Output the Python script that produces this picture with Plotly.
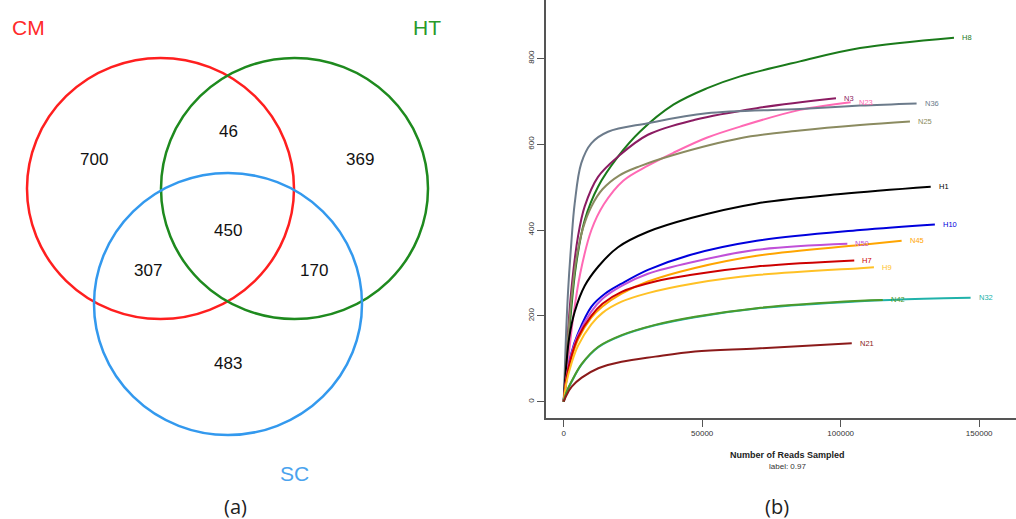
import plotly.graph_objects as go

W, H = 1016, 519

# ---------------- Venn data ----------------
venn_sets = ["CM", "HT", "SC"]
venn_set_colors = ["#ff1f1f", "#1e8a1e", "#3399ee"]
venn_label_colors = ["#ff2a2a", "#2a9a2a", "#4aa3ee"]
venn_regions = ["CM only", "CM&HT", "HT only", "all", "CM&SC", "HT&SC", "SC only"]
venn_counts = [700, 46, 369, 450, 307, 170, 483]

# ---------------- Rarefaction data ----------------
samples = ["H8", "N3", "N23", "N36", "N25", "H1", "H10", "N50", "N45", "H7", "H9", "N32", "N42", "N21"]
sample_colors = ["#1a7a1a", "#8b1c62", "#ff69b4", "#6c7b8b", "#8b8b60", "#000000", "#0000dd",
                 "#c050d8", "#ffa500", "#cd0000", "#ffc125", "#20b2aa", "#4c9a2a", "#8b1a1a"]

reads_H8 = [0, 2500, 4500, 7580, 12400, 19600, 27500, 39600, 51600, 63700, 85300, 107000, 140900]
otus_H8 = [0, 200, 320, 423, 501, 571, 629, 692, 730, 758, 793, 824, 848]
reads_N3 = [0, 1000, 2750, 5160, 7580, 12400, 19600, 30400, 47400, 69700, 98300]
otus_N3 = [0, 110, 260, 385, 455, 524, 571, 622, 657, 684, 707]
reads_N23 = [0, 1500, 3500, 6000, 10000, 14500, 21500, 30400, 39600, 51600, 63700, 85300, 103600]
otus_N23 = [0, 90, 200, 300, 400, 460, 515, 550, 580, 615, 641, 680, 698]
reads_N36 = [0, 800, 1600, 2750, 3970, 6350, 9960, 16000, 30400, 51600, 85300, 107000, 127400]
otus_N36 = [0, 150, 260, 370, 462, 556, 602, 629, 649, 672, 682, 690, 695]
reads_N25 = [0, 1000, 2500, 4500, 7000, 10000, 14000, 20000, 27600, 39600, 63700, 85300, 107000, 125000]
otus_N25 = [0, 100, 220, 330, 405, 455, 495, 527, 549, 575, 614, 632, 645, 653]
reads_H1 = [0, 1000, 2000, 4000, 7600, 12500, 19600, 30400, 46000, 69700, 100000, 132500]
otus_H1 = [0, 90, 150, 210, 270, 315, 360, 396, 428, 462, 484, 501]
reads_H10 = [0, 1000, 2750, 5160, 9960, 15000, 20900, 30400, 45600, 69700, 107000, 134000]
otus_H10 = [0, 50, 113, 159, 221, 252, 275, 307, 342, 375, 400, 413]
reads_N50 = [0, 1000, 2750, 5160, 9960, 14000, 20900, 30400, 47000, 69700, 102400]
otus_N50 = [0, 58, 110, 155, 210, 240, 270, 298, 326, 354, 368]
reads_N45 = [0, 1000, 2750, 5160, 9960, 14000, 20900, 30400, 47000, 69700, 107000, 122000]
otus_N45 = [0, 52, 100, 145, 196, 222, 252, 280, 311, 340, 365, 375]
reads_H7 = [0, 1000, 2750, 5160, 9960, 14000, 20900, 33000, 45600, 69700, 104900]
otus_H7 = [0, 55, 105, 150, 200, 228, 256, 280, 295, 315, 329]
reads_H9 = [0, 1000, 2750, 5160, 9960, 14000, 20900, 30400, 47400, 69700, 107000, 112000]
otus_H9 = [0, 45, 88, 130, 180, 207, 233, 253, 276, 295, 311, 313]
reads_N32 = [0, 1000, 2900, 6500, 12500, 20900, 33000, 47400, 69700, 107000, 130000, 146900]
otus_N32 = [0, 21, 47, 87, 127, 154, 178, 197, 217, 234, 240, 242]
reads_N42 = [0, 1000, 2900, 6500, 12500, 20900, 33000, 47400, 69700, 107000, 115200]
otus_N42 = [0, 22, 48, 88, 128, 155, 179, 198, 218, 235, 237]
reads_N21 = [0, 1000, 2900, 6500, 12500, 20900, 33000, 47400, 69700, 104000]
otus_N21 = [0, 15, 35, 56, 78, 93, 105, 117, 124, 136]

reads = [reads_H8, reads_N3, reads_N23, reads_N36, reads_N25, reads_H1, reads_H10,
         reads_N50, reads_N45, reads_H7, reads_H9, reads_N32, reads_N42, reads_N21]
otus = [otus_H8, otus_N3, otus_N23, otus_N36, otus_N25, otus_H1, otus_H10,
        otus_N50, otus_N45, otus_H7, otus_H9, otus_N32, otus_N42, otus_N21]

x_ticks = [0, 50000, 100000, 150000]
y_ticks = [0, 200, 400, 600, 800]

fig = go.Figure()

for name, col, xs, ys in zip(samples, sample_colors, reads, otus):
    fig.add_trace(go.Scatter(x=xs, y=ys, mode="lines", name=name,
                             line=dict(color=col, width=2, shape="spline", smoothing=1.0),
                             hoverinfo="name+x+y"))
    fig.add_annotation(x=xs[-1], y=ys[-1], xref="x", yref="y", text=name,
                       showarrow=False, xanchor="left", xshift=6,
                       font=dict(family="Liberation Sans, Arial", size=7.5, color=col))

# ---------------- Venn circles (pixel layout -> paper coords) ----------------
def px(x):
    return x / W

def py(y):
    return 1 - y / H

circles = [(160.5, 188.5, 133.5, 130.5), (294.5, 188.5, 133.5, 130.5), (228.0, 304.0, 134.0, 131.0)]
for (cx, cy, rx, ry), col in zip(circles, venn_set_colors):
    fig.add_shape(type="circle", xref="paper", yref="paper",
                  x0=px(cx - rx), x1=px(cx + rx), y0=py(cy + ry), y1=py(cy - ry),
                  line=dict(color=col, width=2.5), fillcolor="rgba(0,0,0,0)")

set_label_pos = [(28, 27), (427, 27), (294, 473)]
for name, col, (x, y) in zip(venn_sets, venn_label_colors, set_label_pos):
    fig.add_annotation(x=px(x), y=py(y), xref="paper", yref="paper", text=name, showarrow=False,
                       xanchor="center", yanchor="middle",
                       font=dict(family="Liberation Sans, Arial", size=21, color=col))

region_pos = [(94, 160), (228, 131), (360, 160), (228, 230), (148, 270), (314, 270), (228, 363)]
for cnt, (x, y) in zip(venn_counts, region_pos):
    fig.add_annotation(x=px(x), y=py(y), xref="paper", yref="paper", text=str(cnt), showarrow=False,
                       xanchor="center", yanchor="middle",
                       font=dict(family="Liberation Sans, Arial", size=17, color="#111111"))

# panel captions
fig.add_annotation(x=px(235), y=py(506), xref="paper", yref="paper", text="(a)", showarrow=False,
                   xanchor="center", yanchor="middle", font=dict(family="Open Sans", size=20, color="#222222"))
fig.add_annotation(x=px(777), y=py(506), xref="paper", yref="paper", text="(b)", showarrow=False,
                   xanchor="center", yanchor="middle", font=dict(family="Open Sans", size=20, color="#222222"))

# x title
fig.add_annotation(x=px(787), y=py(455), xref="paper", yref="paper", text="<b>Number of Reads Sampled</b>",
                   showarrow=False, xanchor="center", yanchor="middle",
                   font=dict(family="Liberation Sans, Arial", size=9, color="#222222"))
fig.add_annotation(x=px(787), y=py(466), xref="paper", yref="paper", text="label: 0.97",
                   showarrow=False, xanchor="center", yanchor="middle",
                   font=dict(family="Liberation Sans, Arial", size=8, color="#333333"))

fig.update_layout(
    width=W, height=H, margin=dict(l=0, r=0, t=0, b=0),
    paper_bgcolor="white", plot_bgcolor="white", showlegend=False,
    xaxis=dict(domain=[546 / W, 1], range=[-6390, 163290], showline=True, linecolor="#555555", linewidth=1.5,
               ticks="outside", ticklen=7, tickwidth=1.2, tickcolor="#555555",
               tickvals=x_ticks, ticktext=[str(v) for v in x_ticks],
               tickfont=dict(family="Liberation Sans, Arial", size=8, color="#333333"),
               showgrid=False, zeroline=False),
    yaxis=dict(domain=[(H - 418) / H, 1], range=[-38, 936], showline=True, linecolor="#555555", linewidth=1.5,
               ticks="outside", ticklen=7, tickwidth=1.2, tickcolor="#555555",
               tickvals=y_ticks, ticktext=[str(v) for v in y_ticks], tickangle=-90,
               tickfont=dict(family="Liberation Sans, Arial", size=8, color="#333333"),
               showgrid=False, zeroline=False),
)

fig.write_html("out.html", config={"displayModeBar": False},
               post_script="document.body.style.margin='0';document.body.style.overflow='hidden';")
